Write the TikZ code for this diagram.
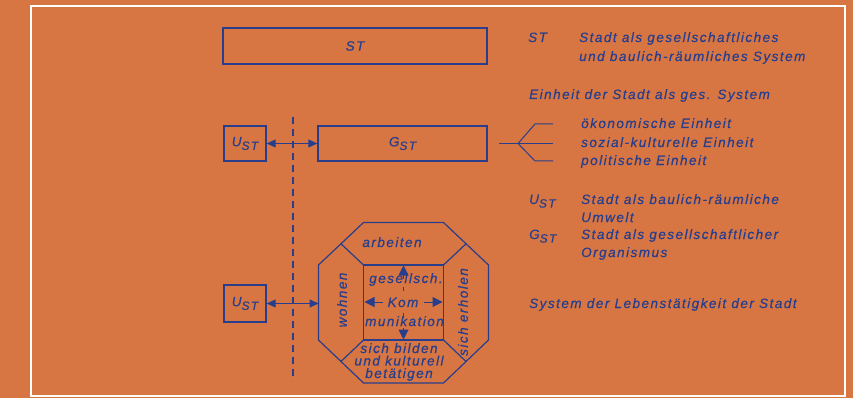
\documentclass[tikz,border=0pt]{standalone}
\usepackage{fontspec}
\setmainfont{Liberation Sans}[LetterSpace=11,FakeBold=0.5]
\usetikzlibrary{arrows.meta}
\definecolor{bg}{RGB}{215,118,67}
\definecolor{ink}{RGB}{40,62,140}
\newcommand\subST{\raisebox{-0.5ex}{\fontsize{12}{12}\selectfont ST}}
\begin{document}
\begin{tikzpicture}[x=1pt,y=-1pt,
  every node/.style={font=\itshape\fontsize{13.5}{12.5}\selectfont, text=ink, inner sep=0pt},
  box/.style={draw=ink, line width=1.3pt},
  ln/.style={draw=ink, line width=1.2pt},
  dbl/.style={draw=ink, line width=1pt, {Triangle[length=9pt,width=8pt]}-{Triangle[length=9pt,width=8pt]}},
  arr/.style={draw=ink, line width=1pt, -{Triangle[length=10pt,width=10pt]}},
  lbl/.style={anchor=base west}]
\fill[bg] (0,0) rectangle (853,398);
\useasboundingbox (0,0) rectangle (853,398);
\draw[white, line width=2pt] (31,6) rectangle (845,396);

% boxes
\node[box, minimum width=264pt, minimum height=36pt] (st) at (355,46) {ST};
\node[box, minimum width=169pt, minimum height=35pt] (gst) at (402.5,143.5) {G\subST};
\node[box, minimum width=42pt, minimum height=35pt] (u1) at (245,143.5) {U\subST};
\node[box, minimum width=42pt, minimum height=37pt] (u2) at (245,303.5) {U\subST};

% dashed boundary
\coordinate (dtop) at (293,117);
\coordinate (dbot) at (293,381);
\draw[ink, line width=1.2pt, dash pattern=on 7pt off 5pt] (dtop) -- (dbot);

% octagon
\coordinate (o1) at (363.5,222.5);
\coordinate (o2) at (443.5,222.5);
\coordinate (o3) at (488.5,265);
\coordinate (o4) at (488.5,340);
\coordinate (o5) at (443.5,383);
\coordinate (o6) at (363.5,383);
\coordinate (o7) at (318.5,340);
\coordinate (o8) at (318.5,265);
\coordinate (i1) at (363.5,265);
\coordinate (i2) at (443.5,265);
\coordinate (i3) at (443.5,340);
\coordinate (i4) at (363.5,340);
\coordinate (m1) at (341,243.75);
\coordinate (m2) at (466,243.75);
\coordinate (m3) at (466,361.5);
\coordinate (m4) at (341,361.5);
\coordinate (octL) at (318.5,303.5);
\draw[ln] (o1) -- (o2) -- (o3) -- (o4) -- (o5) -- (o6) -- (o7) -- (o8) -- cycle;
\draw[ln] (i1) -- (i2) -- (i3) -- (i4) -- cycle;
\draw[ln] (i1) -- (m1);
\draw[ln] (i2) -- (m2);
\draw[ln] (i3) -- (m3);
\draw[ln] (i4) -- (m4);

% connectors
\draw[dbl] (u1.east) -- (gst.west);
\draw[dbl] (u2.east) -- (octL);

% fork
\coordinate (f0) at (499,143.5);
\coordinate (fj) at (518,143.5);
\coordinate (fa) at (535,124);
\coordinate (fae) at (553,124);
\coordinate (fbe) at (553,143.5);
\coordinate (fc) at (535,161);
\coordinate (fce) at (553,161);
\draw[ln, line width=1pt] (f0) -- (fbe);
\draw[ln, line width=1pt] (fj) -- (fa) -- (fae);
\draw[ln, line width=1pt] (fj) -- (fc) -- (fce);

% octagon labels
\node[anchor=base] (arb) at (392,247) {arbeiten};
\node[rotate=90] (woh) at (342,300) {wohnen};
\node[rotate=90] (erh) at (463,312) {sich erholen};
\node[align=center] (bil) at (399,362) {sich bilden\\und kulturell\\betätigen};
\node[anchor=base] (ges) at (406,283) {gesellsch.};
\node[anchor=base] (kom) at (403,307) {Kom};
\node[anchor=base] (mun) at (404.5,326) {munikation};

% inner arrows
\coordinate (au0) at (403.5,279);
\coordinate (au1) at (403.5,265.5);
\coordinate (ad0) at (403.5,328);
\coordinate (ad1) at (403.5,339.5);
\coordinate (al0) at (383,302);
\coordinate (al1) at (364.5,302);
\coordinate (ar0) at (424,302);
\coordinate (ar1) at (442.5,302);
\draw[arr] (au0) -- (au1);
\draw[arr] (ad0) -- (ad1);
\draw[arr] (al0) -- (al1);
\draw[arr] (ar0) -- (ar1);
\coordinate (t1a) at (403.5,286.5);
\coordinate (t1b) at (403.5,291);
\coordinate (t2a) at (403.5,313);
\coordinate (t2b) at (403.5,317.5);
\draw[ink, line width=0.8pt] (t1a) -- (t1b);
\draw[ink, line width=0.8pt] (t2a) -- (t2b);

% legend
\node[lbl] (k1) at (528,42) {ST};
\node[lbl] (l1a) at (579,42) {Stadt als gesellschaftliches};
\node[lbl] (l1b) at (579,61) {und baulich-räumliches System};
\node[lbl] (l2) at (529,99) {Einheit der Stadt als ges. System};
\node[lbl] (l3a) at (581,128) {ökonomische Einheit};
\node[lbl] (l3b) at (581,147) {sozial-kulturelle Einheit};
\node[lbl] (l3c) at (581,165) {politische Einheit};
\node[lbl] (k4) at (529,204) {U\subST};
\node[lbl] (l4a) at (581,204) {Stadt als baulich-räumliche};
\node[lbl] (l4b) at (581,222) {Umwelt};
\node[lbl] (k5) at (529,239) {G\subST};
\node[lbl] (l5a) at (581,239) {Stadt als gesellschaftlicher};
\node[lbl] (l5b) at (581,257) {Organismus};
\node[lbl] (l6) at (529,308) {System der Lebenstätigkeit der Stadt};
\end{tikzpicture}
\end{document}
